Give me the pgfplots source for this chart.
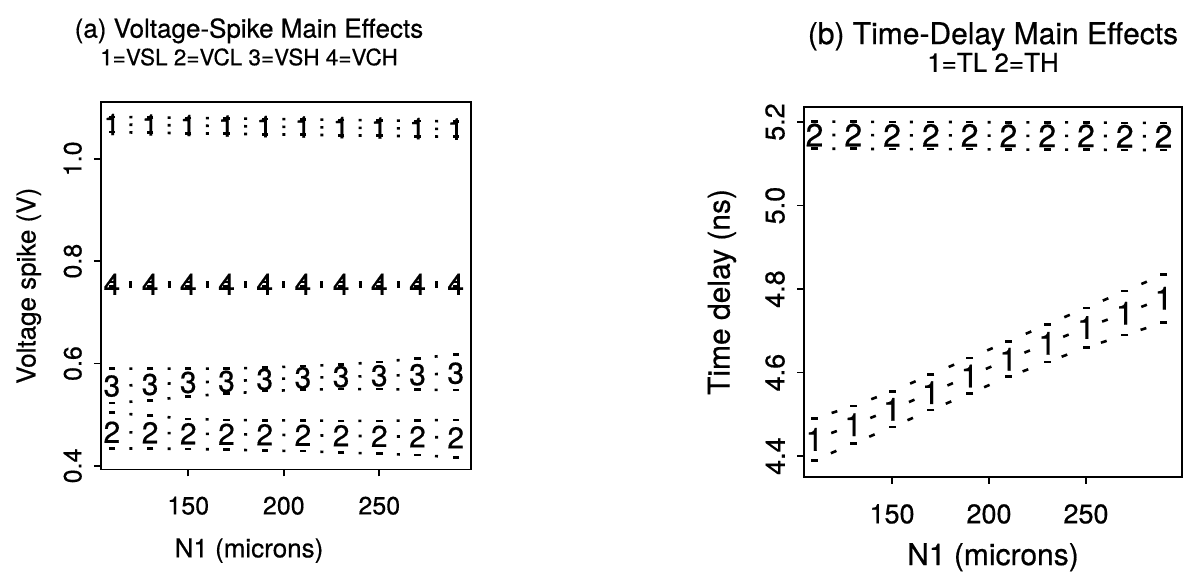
\documentclass[border=0pt]{standalone}
\usepackage{fontspec}
\setmainfont{TeX Gyre Heros}[FakeBold=0.5]
\usepackage{pgfplots}
\usepackage{pgfplotstable}
\pgfplotsset{compat=1.18}

% (a) voltage spike: upper / mean / lower for each level, N1 = 110..290
\pgfplotstableread{
x   u1    m1    l1    u4    m4    l4    u3    m3    l3    u2    m2    l2
110 1.082 1.067 1.052 0.759 0.755 0.751 0.590 0.556 0.523 0.504 0.466 0.434
130 1.081 1.066 1.051 0.759 0.755 0.751 0.590 0.559 0.528 0.498 0.465 0.434
150 1.080 1.065 1.050 0.759 0.755 0.751 0.590 0.563 0.536 0.492 0.463 0.433
170 1.079 1.064 1.049 0.759 0.755 0.751 0.590 0.565 0.541 0.490 0.462 0.432
190 1.078 1.063 1.048 0.759 0.755 0.751 0.592 0.569 0.546 0.489 0.461 0.430
210 1.077 1.062 1.047 0.759 0.755 0.751 0.595 0.572 0.549 0.489 0.460 0.429
230 1.076 1.061 1.046 0.759 0.755 0.751 0.598 0.574 0.550 0.488 0.459 0.426
250 1.075 1.060 1.045 0.759 0.755 0.751 0.603 0.576 0.550 0.488 0.458 0.424
270 1.074 1.059 1.044 0.759 0.755 0.751 0.610 0.578 0.549 0.489 0.457 0.421
290 1.073 1.058 1.043 0.759 0.755 0.751 0.618 0.581 0.548 0.490 0.455 0.417
}\tabA

% (b) time delay
\pgfplotstableread{
x   u2    m2    l2    u1    m1    l1
110 5.201 5.169 5.136 4.490 4.440 4.390
130 5.201 5.169 5.136 4.520 4.475 4.430
150 5.200 5.168 5.135 4.555 4.512 4.470
170 5.200 5.168 5.135 4.595 4.552 4.510
190 5.200 5.168 5.135 4.635 4.592 4.550
210 5.199 5.167 5.134 4.675 4.632 4.590
230 5.199 5.167 5.134 4.715 4.670 4.625
250 5.199 5.167 5.134 4.755 4.708 4.660
270 5.198 5.166 5.133 4.795 4.742 4.690
290 5.198 5.166 5.133 4.835 4.778 4.720
}\tabB

\newcommand\digA{\fontsize{30}{30}\selectfont}
\newcommand\digB{\fontsize{32}{32}\selectfont}

\pgfplotsset{
  splus/.style={
    scale only axis, clip=false, anchor=south west,
    axis line style={line width=1.7pt},
    tick align=outside, tick pos=left,
    major tick length=7pt,
    every tick/.style={black, line width=1.7pt},
    tick label style={font=\fontsize{27}{27}\selectfont},
    /pgf/number format/assume math mode=true,
    xticklabel style={anchor=north, inner sep=0pt},
    xticklabel shift=20pt,
    yticklabel style={rotate=90, anchor=south, inner sep=0pt},
    yticklabel shift=12pt,
    y tick label style={/pgf/number format/fixed, /pgf/number format/fixed zerofill, /pgf/number format/precision=1},
    label style={font=\fontsize{30}{30}\selectfont},
    xtick={150,200,250},
  },
  bnd/.style={black, line width=2.6pt, mark=-, mark size=3.5pt, mark options={solid}},
  bndA/.style={black, line width=2.6pt, mark=-, mark size=3.2pt, mark options={solid}},
  % dotted link between neighbouring points, one dot in each gap
  lnkA/.style={black, line width=2.6pt, no markers, dash pattern=on 3pt off 35.2pt, dash phase=20.6pt},
  lnkB/.style={black, line width=2.6pt, no markers, dash pattern=on 3pt off 35.8pt, dash phase=20.9pt},
  dig/.style={black, only marks, mark=text, text mark as node=true,
    text mark style={font=#1, inner sep=0pt}},
}

\begin{document}
\begin{tikzpicture}
\useasboundingbox (0,0) rectangle (1191pt,575pt);

\begin{axis}[splus, at={(101pt,105.5pt)}, width=370pt, height=367.5pt,
  xmin=104.3, xmax=298, ymin=0.393, ymax=1.111,
  ytick={0.4,0.6,0.8,1.0},
  tick label style={font=\fontsize{25}{25}\selectfont},
  label style={font=\fontsize{26}{26}\selectfont},
  xlabel={N1 (microns)}, ylabel={Voltage spike (V)},
  xlabel style={at={(axis description cs:0.4,-0.239)}, anchor=base},
  ylabel style={at={(axis description cs:-0.195,0.5)}, anchor=center},
]
\addplot[bndA, dash pattern=on 3pt off 35.2pt, dash phase=20.6pt] table[y=u1]{\tabA};
\addplot[bndA, dash pattern=on 3pt off 35.2pt, dash phase=20.6pt] table[y=l1]{\tabA};
\addplot[lnkA] table[y=m1]{\tabA};
\addplot[dig=\digA, text mark={1}] table[y=m1]{\tabA};
\addplot[bndA, dash pattern=on 3pt off 35.2pt, dash phase=20.6pt] table[y=u4]{\tabA};
\addplot[bndA, dash pattern=on 3pt off 35.2pt, dash phase=20.6pt] table[y=l4]{\tabA};
\addplot[lnkA] table[y=m4]{\tabA};
\addplot[dig=\digA, text mark={4}] table[y=m4]{\tabA};
\addplot[bndA, dash pattern=on 3pt off 35.2pt, dash phase=20.6pt] table[y=u3]{\tabA};
\addplot[bndA, dash pattern=on 3pt off 35.2pt, dash phase=20.6pt] table[y=l3]{\tabA};
\addplot[lnkA] table[y=m3]{\tabA};
\addplot[dig=\digA, text mark={3}] table[y=m3]{\tabA};
\addplot[bndA, dash pattern=on 3pt off 35.2pt, dash phase=20.6pt] table[y=u2]{\tabA};
\addplot[bndA, dash pattern=on 3pt off 35.2pt, dash phase=20.6pt] table[y=l2]{\tabA};
\addplot[lnkA] table[y=m2]{\tabA};
\addplot[dig=\digA, text mark={2}] table[y=m2]{\tabA};
\node[anchor=base, font=\fontsize{26}{26}\selectfont] at (axis description cs:0.4,1.175) {(a) Voltage-Spike Main Effects};
\node[anchor=base, font=\fontsize{22.5}{22.5}\selectfont] at (axis description cs:0.4,1.10) {1=VSL 2=VCL 3=VSH 4=VCH};
\end{axis}

\begin{axis}[splus, at={(804pt,98pt)}, width=378pt, height=370pt,
  xmin=104.6, xmax=299.5, ymin=4.35, ymax=5.236,
  ytick={4.4,4.6,4.8,5.0,5.2},
  xlabel={N1 (microns)}, ylabel={Time delay (ns)},
  xlabel style={at={(axis description cs:0.5,-0.238)}, anchor=base},
  ylabel style={at={(axis description cs:-0.217,0.5)}, anchor=center},
]
\addplot[bnd, dash pattern=on 3pt off 35.8pt, dash phase=20.9pt] table[y=u2]{\tabB};
\addplot[bnd, dash pattern=on 3pt off 35.8pt, dash phase=20.9pt] table[y=l2]{\tabB};
\addplot[lnkB] table[y=m2]{\tabB};
\addplot[dig=\digB, text mark={2}] table[y=m2]{\tabB};
\addplot[bnd, dash pattern=on 6pt off 35.96pt, dash phase=23.98pt] table[y=u1]{\tabB};
\addplot[bnd, dash pattern=on 6pt off 35.7pt, dash phase=23.85pt] table[y=l1]{\tabB};
\addplot[black, line width=2.6pt, no markers, dash pattern=on 6pt off 35.85pt, dash phase=23.93pt] table[y=m1]{\tabB};
\addplot[dig=\digB, text mark={1}] table[y=m1]{\tabB};
\node[anchor=base, font=\fontsize{30}{30}\selectfont] at (axis description cs:0.5,1.17) {(b) Time-Delay Main Effects};
\node[anchor=base, font=\fontsize{26}{26}\selectfont] at (axis description cs:0.5,1.095) {1=TL 2=TH};
\end{axis}
\end{tikzpicture}
\end{document}
